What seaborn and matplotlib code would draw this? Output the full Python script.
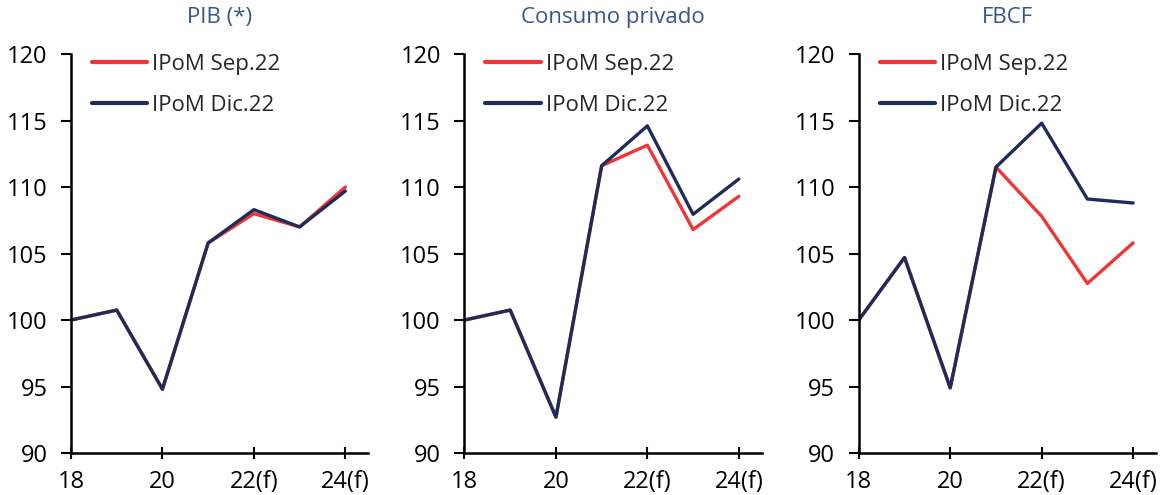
import pandas as pd
import seaborn as sns
import matplotlib.pyplot as plt

sns.set_theme(style="white")
plt.rcParams['font.family'] = ['Open Sans', 'DejaVu Sans']

years = [18, 19, 20, 21, 22, 23, 24]
tick_pos = [18, 20, 22, 24]
tick_labels = ['18', '20', '22(f)', '24(f)']

titles = ['PIB (*)', 'Consumo privado', 'FBCF']
series_names = ['IPoM Sep.22', 'IPoM Dic.22']

pib_sep = [100, 100.75, 94.8, 105.8, 108.0, 107.0, 110.0]
pib_dic = [100, 100.75, 94.8, 105.8, 108.3, 107.0, 109.7]
cons_sep = [100, 100.75, 92.7, 111.6, 113.15, 106.8, 109.3]
cons_dic = [100, 100.75, 92.7, 111.6, 114.6, 107.95, 110.6]
fbcf_sep = [100, 104.7, 94.9, 111.5, 107.8, 102.75, 105.8]
fbcf_dic = [100, 104.7, 94.9, 111.5, 114.8, 109.1, 108.8]

panels = [(pib_sep, pib_dic), (cons_sep, cons_dic), (fbcf_sep, fbcf_dic)]
palette = {'IPoM Sep.22': '#ef3535', 'IPoM Dic.22': '#1f2b5b'}

fig = plt.figure(figsize=(11.7, 4.95), dpi=100)
lefts = [0.0607, 0.397, 0.734]

for left, title, (sep, dic) in zip(lefts, titles, panels):
    ax = fig.add_axes([left, 0.0848, 0.254, 0.806])
    df = pd.DataFrame({
        'year': years * 2,
        'value': sep + dic,
        'serie': [series_names[0]] * len(years) + [series_names[1]] * len(years),
    })
    sns.lineplot(data=df, x='year', y='value', hue='serie', palette=palette,
                 linewidth=2.4, ax=ax)
    ax.set_xlim(18, 24.5)
    ax.set_ylim(90, 120)
    ax.set_yticks([90, 95, 100, 105, 110, 115, 120])
    ax.set_xticks(tick_pos)
    ax.set_xticklabels(tick_labels)
    ax.set_xlabel('')
    ax.set_ylabel('')
    ax.set_title(title, color='#34568f', fontsize=16, pad=22)
    for side in ['top', 'right']:
        ax.spines[side].set_visible(False)
    for side in ['left', 'bottom']:
        ax.spines[side].set_color('black')
        ax.spines[side].set_linewidth(1.8)
    ax.tick_params(axis='y', direction='out', length=7, width=1.5,
                   labelsize=17, colors='black', pad=10, left=True)
    ax.tick_params(axis='x', direction='inout', length=8, width=1.5,
                   labelsize=17, colors='black', pad=8, bottom=True)
    leg = ax.legend(loc='upper left', bbox_to_anchor=(0.07, 1.0), frameon=False,
                    fontsize=16, handlelength=2.5, handletextpad=0.23,
                    labelspacing=0.9, borderaxespad=0, borderpad=0)
    for h in leg.get_lines():
        h.set_linewidth(3)

fig.savefig('out.png', dpi=100)
